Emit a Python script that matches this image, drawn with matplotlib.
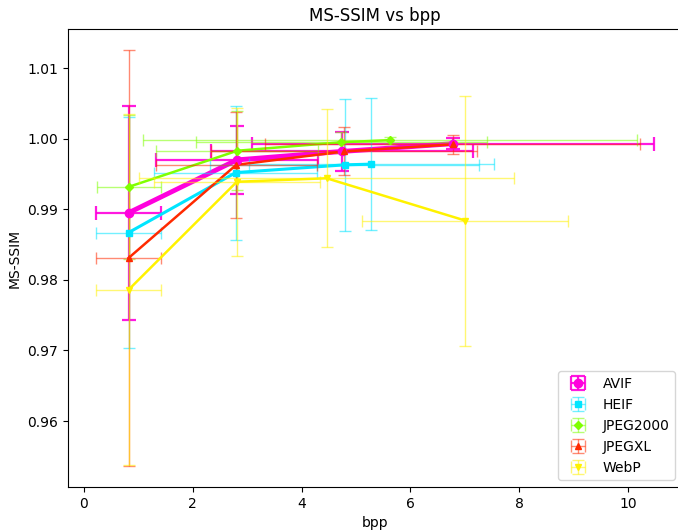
import matplotlib.pyplot as plt

codecs = ['AVIF', 'HEIF', 'JPEG2000', 'JPEGXL', 'WebP']

# mean bpp and its std per quality level
bpp = {
    'AVIF': [0.82, 2.81, 4.75, 6.78],
    'HEIF': [0.82, 2.79, 4.79, 5.28],
    'JPEG2000': [0.83, 2.82, 4.73, 5.62],
    'JPEGXL': [0.82, 2.80, 4.78, 6.78],
    'WebP': [0.82, 2.81, 4.46, 7.01],
}
bpp_std = {
    'AVIF': [0.59, 1.49, 2.41, 3.70],
    'HEIF': [0.59, 1.50, 2.48, 2.25],
    'JPEG2000': [0.59, 1.49, 2.67, 4.54],
    'JPEGXL': [0.60, 1.48, 2.45, 3.45],
    'WebP': [0.59, 1.53, 3.45, 1.89],
}

# mean MS-SSIM and its std per quality level
msssim = {
    'AVIF': [0.9895, 0.9970, 0.9982, 0.9993],
    'HEIF': [0.9867, 0.9952, 0.9963, 0.9964],
    'JPEG2000': [0.9932, 0.9983, 0.9995, 0.9998],
    'JPEGXL': [0.9831, 0.9963, 0.9982, 0.9992],
    'WebP': [0.9786, 0.9939, 0.9944, 0.9884],
}
msssim_std = {
    'AVIF': [0.0152, 0.0048, 0.0028, 0.0008],
    'HEIF': [0.0164, 0.0095, 0.0094, 0.0094],
    'JPEG2000': [0.0102, 0.0056, 0.0015, 0.0005],
    'JPEGXL': [0.0295, 0.0075, 0.0034, 0.0013],
    'WebP': [0.0249, 0.0105, 0.0098, 0.0177],
}

colors = {
    'AVIF': '#ff00dd',
    'HEIF': '#00e5ff',
    'JPEG2000': '#7fff00',
    'JPEGXL': '#ff2a00',
    'WebP': '#fff200',
}
markers = {'AVIF': 'o', 'HEIF': 's', 'JPEG2000': 'D', 'JPEGXL': '^', 'WebP': 'v'}
widths = {'AVIF': 3.5, 'HEIF': 2.2, 'JPEG2000': 1.8, 'JPEGXL': 1.8, 'WebP': 1.8}

fig = plt.figure(figsize=(6.78, 5.30), dpi=100)
ax = fig.add_axes([0.1003, 0.0811, 0.9056, 0.8642])

for name in codecs:
    c = colors[name]
    big = name == 'AVIF'
    # error bars + markers (this is what goes into the legend)
    eb = ax.errorbar(bpp[name], msssim[name],
                     xerr=bpp_std[name], yerr=msssim_std[name],
                     fmt=markers[name], color=c, label=name,
                     markersize=6 if big else 4.5,
                     elinewidth=1.6 if big else 1.0,
                     capsize=5 if big else 4,
                     capthick=1.6 if big else 1.0)
    for art in list(eb[1]) + list(eb[2]):
        art.set_alpha(0.9 if big else 0.55)
    # connecting line
    ax.plot(bpp[name], msssim[name], color=c, linewidth=widths[name])

ax.set_title('MS-SSIM vs bpp')
ax.set_xlabel('bpp')
ax.set_ylabel('MS-SSIM')
ax.legend(loc='lower right')

fig.savefig('out.png', dpi=100)
